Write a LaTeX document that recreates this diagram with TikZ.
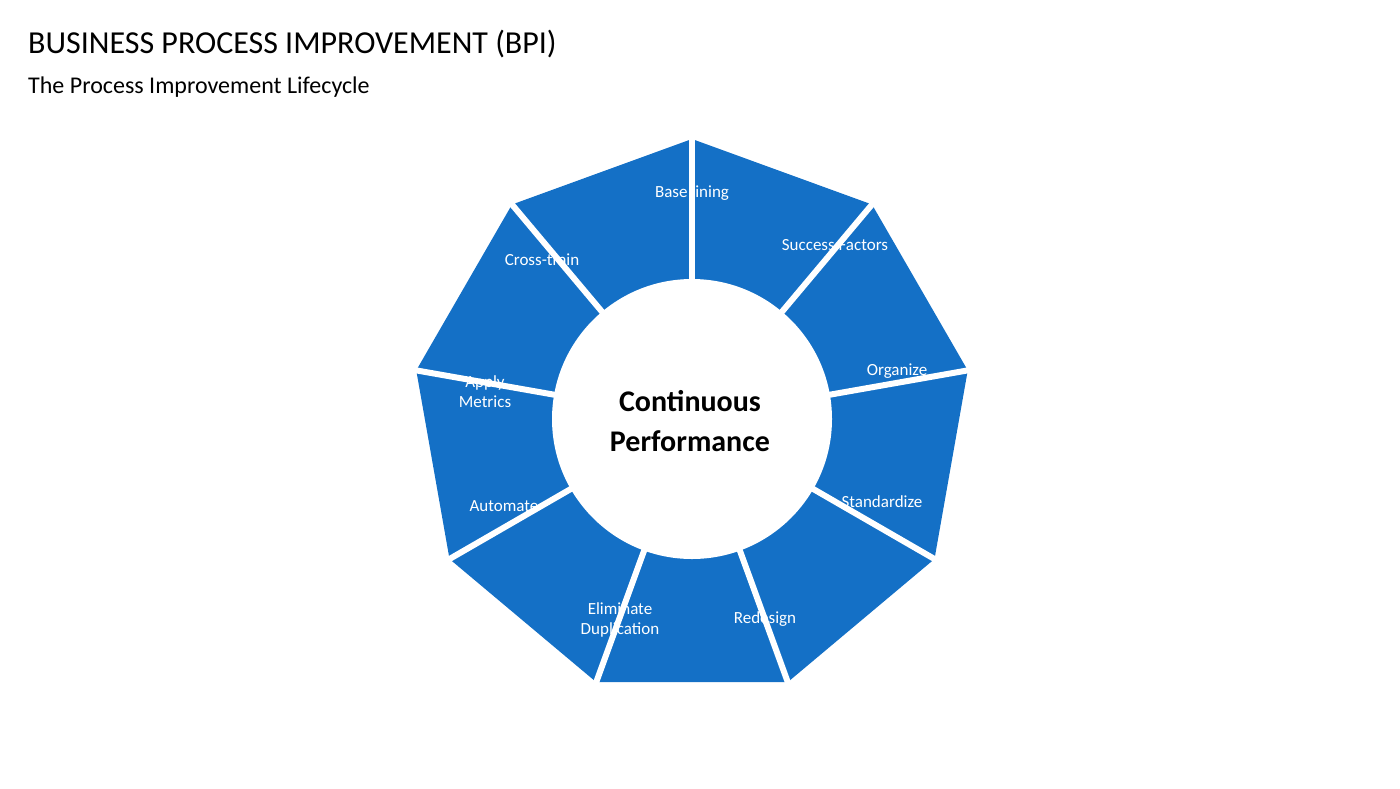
\documentclass[tikz,border=0pt]{standalone}
\usepackage{fontspec}
\usetikzlibrary{calc}
\setmainfont{Carlito}
\definecolor{bpiblue}{RGB}{20,112,198}
\begin{document}
\begin{tikzpicture}[x=1pt,y=-1pt,
  seglabel/.style={text=white,font=\fontsize{17}{20}\selectfont,align=center,inner sep=0pt}]
\useasboundingbox (0,0) rectangle (1400,788);
% titles
\node[anchor=west,inner sep=0pt,font=\fontsize{32}{36}\selectfont] (title) at (28,44) {BUSINESS PROCESS IMPROVEMENT (BPI)};
\node[anchor=west,inner sep=0pt,font=\fontsize{24}{28}\selectfont] (subtitle) at (28,87) {The Process Improvement Lifecycle};
% ring
\coordinate (c) at (692,419);
\fill[bpiblue] ($(c)+(-90:280)$) \foreach \a in {-50,-10,...,230} { -- ($(c)+(\a:280)$) } -- cycle;
\foreach \a in {-90,-50,...,230}
  \draw[white,line width=6pt] (c) -- ++(\a:290);
\fill[white] (c) circle (140);
% labels
\node[seglabel] (base) at (692,193) {Base lining};
\node[seglabel] (succ) at (835,245) {Success Factors};
\node[seglabel] (org) at (897,371) {Organize};
\node[seglabel] (std) at (882,502) {Standardize};
\node[seglabel] (red) at (765,619) {Redesign};
\node[seglabel] (elim) at (620,620) {Eliminate\\Duplication};
\node[seglabel] (auto) at (504,506) {Automate};
\node[seglabel] (metr) at (485,392) {Apply\\Metrics};
\node[seglabel] (cross) at (542,260) {Cross-train};
\node[font=\bfseries\fontsize{30}{40}\selectfont,align=center] (center) at (690,421) {Continuous\\Performance};
\end{tikzpicture}
\end{document}
